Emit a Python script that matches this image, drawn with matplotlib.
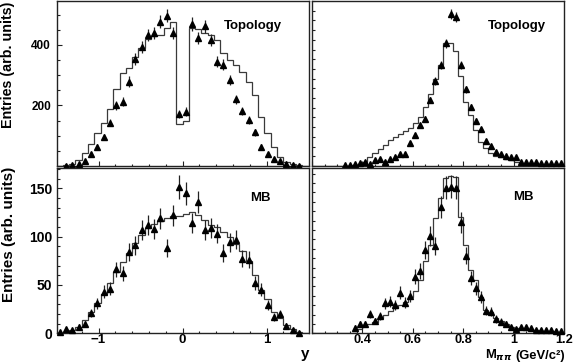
import numpy as np
import matplotlib
matplotlib.use("Agg")
import matplotlib.pyplot as plt
from matplotlib.ticker import MultipleLocator, FixedLocator, FuncFormatter, NullFormatter

plt.rcParams['font.family'] = ['Liberation Sans', 'DejaVu Sans']
plt.rcParams['font.weight'] = 'bold'

# ---------------- data ----------------
# rapidity histograms: 40 bins from -1.5 to 1.5
y_range = (-1.5, 1.5)
y_nbins = 40
# mass histograms: 50 bins from 0.2 to 1.2 GeV/c^2
m_range = (0.2, 1.2)
m_nbins = 50

topo_y_data = [0, 1, 2, 6, 18, 40, 64, 95, 143, 200, 213, 279, 353, 394, 433, 439, 477, 497, 439, 171,
               180, 469, 422, 461, 417, 345, 334, 284, 221, 182, 152, 111, 64, 40, 23, 17, 7, 3, 1, 0]
topo_y_err = [0, 1, 1.4, 2.4, 4.2, 6.3, 8, 9.7, 12, 14.1, 14.6, 16.7, 18.8, 19.8, 20.8, 21, 21.8, 22.3, 21, 13.1,
              13.4, 21.7, 20.5, 21.5, 20.4, 18.6, 18.3, 16.9, 14.9, 13.5, 12.3, 10.5, 8, 6.3, 4.8, 4.1, 2.6, 1.7, 1, 0]
topo_y_mc = [1, 3, 7, 21, 42, 73, 110, 143, 188, 253, 306, 323, 359, 389, 420, 428, 434, 455, 476, 139,
             149, 455, 452, 440, 432, 417, 373, 350, 334, 312, 279, 235, 163, 108, 64, 31, 14, 7, 3, 1]

mb_y_data = [1, 4, 3, 7, 10, 21, 31, 43, 46, 66, 62, 84, 91, 107, 112, 108, 119, 88, 122, 151,
             145, 114, 136, 107, 109, 103, 83, 94, 97, 77, 76, 52, 45, 29, 17, 20, 8, 3, 0.5, 0]
mb_y_err = [1, 2, 1.7, 2.6, 3.2, 4.6, 5.6, 6.6, 6.8, 8.1, 7.9, 9.2, 9.5, 10.3, 10.6, 10.4, 10.9, 9.4, 11, 12.3,
            12, 10.7, 11.7, 10.3, 10.4, 10.1, 9.1, 9.7, 9.8, 8.8, 8.7, 7.2, 6.7, 5.4, 4.1, 4.5, 2.8, 1.7, 0.7, 0]
mb_y_mc = [0.5, 1.5, 3, 7, 14, 22, 31, 41, 52, 63, 74, 83, 93, 102, 109, 113, 116, 119, 121, 121,
           123, 125, 122, 117, 112, 110, 105, 100, 92, 85, 75, 60, 45, 35, 22, 15.5, 8.6, 4, 1.5, 0.5]

topo_m_data = [0, 0, 0, 0, 0, 0, 1, 1, 1.7, 2.7, 3.8, 2, 6.2, 6.9, 4.5, 7.6, 9.6, 12.7, 12.7, 24,
               32, 42, 48.5, 68, 87.6, 104, 126.5, 156.7, 153.3, 104, 79, 61, 46.4, 38, 25.8, 21, 14.8, 12.4, 10.7, 9.6,
               9, 4.5, 4.5, 4.5, 4.5, 2.7, 2.7, 2.7, 2.7, 2.7]
topo_m_err = [0, 0, 0, 0, 0, 0, 0.4, 0.4, 0.5, 0.65, 0.8, 0.55, 1, 1.05, 0.85, 1.1, 1.25, 1.4, 1.4, 1.95,
              2.25, 2.6, 2.8, 3.3, 3.75, 4.1, 4.5, 5, 4.95, 4.1, 3.55, 3.1, 2.7, 2.45, 2.05, 1.85, 1.55, 1.4, 1.3, 1.25,
              1.2, 0.85, 0.85, 0.85, 0.85, 0.65, 0.65, 0.65, 0.65, 0.65]
topo_m_mc = [0, 0, 0, 0, 0, 0, 0, 0.5, 1, 1, 3.8, 9.6, 13, 17.5, 21.6, 26.8, 30, 32.6, 36.4, 38.8,
             44, 50.9, 61, 73.9, 89.4, 104, 126.5, 126.5, 118.9, 92.8, 66.3, 52.6, 37, 25, 18.2, 13.7, 10.7, 9, 7.2, 6.2,
             3.8, 2, 2, 1.5, 1.5, 1, 1, 0.5, 0.5, 0.5]

mb_m_data = [0, 0, 0, 0, 0, 0, 0, 0, 6, 9.6, 9.6, 20.5, 13.1, 18.4, 31.9, 33.6, 30.1, 43.2, 32.6, 39.7,
             60.2, 66.3, 88.6, 103.5, 93.2, 134.7, 154.9, 156, 154.9, 118, 82.6, 58.5, 47.9, 38.3, 24, 23, 15.2, 12.4, 9.6, 6.4,
             4.6, 6.4, 6.4, 5.3, 3.5, 3.5, 3.5, 3.5, 2.8, 2.8]
mb_m_err = [0, 0, 0, 0, 0, 0, 0, 0, 2.4, 3.1, 3.1, 4.5, 3.6, 4.3, 5.6, 5.8, 5.5, 6.6, 5.7, 6.3,
            7.8, 8.1, 9.4, 10.2, 9.7, 11.6, 12.4, 12.5, 12.4, 10.9, 9.1, 7.6, 6.9, 6.2, 4.9, 4.8, 3.9, 3.5, 3.1, 2.5,
            2.1, 2.5, 2.5, 2.3, 1.9, 1.9, 1.9, 1.9, 1.7, 1.7]
mb_m_mc = [0, 0, 0, 0, 0, 0, 0, 0, 0, 4.2, 8.8, 9.6, 12.4, 16, 19.5, 23.7, 26.6, 30.1, 33.6, 38.9,
           45, 56.7, 76.9, 93.9, 122.3, 143.6, 165, 167, 166, 124, 93.9, 67.3, 56.7, 38.9, 24.8, 23, 16.6, 13.1, 9.6, 7,
           5.3, 4.2, 4, 3.5, 3, 2.5, 2, 2, 1.5, 1.5]

panel_labels = ["Topology", "Topology", "MB", "MB"]
y_title = "Entries (arb. units)"
x_title_left = "y"
x_title_right_var = r"M$_{\pi\pi}$"
x_title_right_unit = "(GeV/c²)"

# ---------------- figure ----------------
W, H = 575, 363
fig = plt.figure(figsize=(W / 100, H / 100), dpi=100)
fig.patch.set_facecolor('white')


def ax_at(x0, y0, x1, y1):
    return fig.add_axes([x0 / W, 1 - y1 / H, (x1 - x0) / W, (y1 - y0) / H])


ax_tl = ax_at(56.5, 1, 308.5, 166)
ax_bl = ax_at(56.5, 167.5, 308.5, 333.3)
ax_tr = ax_at(312, 1, 564, 166)
ax_br = ax_at(312, 167.5, 564, 333.3)

y_edges = np.linspace(y_range[0], y_range[1], y_nbins + 1)
m_edges = np.linspace(m_range[0], m_range[1], m_nbins + 1)


def draw(ax, edges, mc, data, err):
    ax.stairs(mc, edges, color='#3a3a3a', lw=0.9, baseline=0)
    centers = 0.5 * (edges[:-1] + edges[1:])
    d = np.array(data, float)
    e = np.array(err, float)
    sel = d > 0
    ax.errorbar(centers[sel], d[sel], yerr=e[sel], fmt='^', color='black', ms=4.4,
                elinewidth=0.9, ecolor='#222222', capsize=0, clip_on=False, zorder=3)


draw(ax_tl, y_edges, topo_y_mc, topo_y_data, topo_y_err)
draw(ax_bl, y_edges, mb_y_mc, mb_y_data, mb_y_err)
draw(ax_tr, m_edges, topo_m_mc, topo_m_data, topo_m_err)
draw(ax_br, m_edges, mb_m_mc, mb_m_data, mb_m_err)

ax_tl.set_ylim(0, 545)
ax_bl.set_ylim(0, 171.5)
ax_tr.set_ylim(0, 170)
ax_br.set_ylim(0, 176.4)

for ax in (ax_tl, ax_bl):
    ax.set_xlim(*y_range)
    ax.xaxis.set_major_locator(MultipleLocator(1))
    ax.xaxis.set_minor_locator(MultipleLocator(0.2))
for ax in (ax_tr, ax_br):
    ax.set_xlim(*m_range)
    ax.xaxis.set_major_locator(MultipleLocator(0.2))
    ax.xaxis.set_minor_locator(MultipleLocator(0.05))
    ax.yaxis.set_major_locator(MultipleLocator(10))
    ax.yaxis.set_minor_locator(FixedLocator([]))
    ax.yaxis.set_major_formatter(NullFormatter())

ax_tl.yaxis.set_major_locator(FixedLocator([0, 200, 400]))
ax_tl.yaxis.set_minor_locator(MultipleLocator(50))
ax_tl.yaxis.set_major_formatter(FuncFormatter(lambda v, p: "" if v == 0 else f"{v:g}"))
ax_bl.yaxis.set_major_locator(MultipleLocator(50))
ax_bl.yaxis.set_minor_locator(MultipleLocator(10))

for ax in (ax_tl, ax_tr):
    ax.xaxis.set_major_formatter(NullFormatter())
ax_br.xaxis.set_major_formatter(FuncFormatter(
    lambda v, p: "" if abs(v - 0.2) < 1e-6 else f"{v:g}"))

for ax in (ax_tl, ax_bl, ax_tr, ax_br):
    for s in ax.spines.values():
        s.set_linewidth(1.0)
        s.set_color('#222222')
    ax.tick_params(which='both', direction='in', top=False, right=False,
                   color='#222222', width=0.8)
    ax.tick_params(which='major', length=3.6)
    ax.tick_params(which='minor', length=1.8)
    ax.set_facecolor('white')

for ax in (ax_tr, ax_br):
    ax.tick_params(axis='y', which='major', length=2.0)

ax_tl.tick_params(axis='y', labelsize=8.5, pad=4)
ax_bl.tick_params(axis='y', labelsize=10, pad=3)
ax_bl.tick_params(axis='x', labelsize=9.5, pad=0.8)
ax_br.tick_params(axis='x', labelsize=9.2, pad=0.7)

# panel labels
fig.text(224 / W, 1 - 29.3 / H, panel_labels[0], fontsize=9.5, fontweight='bold', va='baseline')
fig.text(488.3 / W, 1 - 29.3 / H, panel_labels[1], fontsize=9.5, fontweight='bold', va='baseline')
fig.text(250 / W, 1 - 201 / H, panel_labels[2], fontsize=9.5, fontweight='bold', va='baseline')
fig.text(513.3 / W, 1 - 200 / H, panel_labels[3], fontsize=9.5, fontweight='bold', va='baseline')

# axis titles
fig.text(7.8 / W, 1 - 65 / H, y_title, rotation=90, fontsize=10.3, fontweight='bold',
         ha='center', va='center')
fig.text(8.8 / W, 1 - 234 / H, y_title, rotation=90, fontsize=11, fontweight='bold',
         ha='center', va='center')
fig.text(309 / W, 1 - 358 / H, x_title_left, fontsize=11, fontweight='bold', ha='right', va='baseline')

unit_txt = fig.text(565 / W, 1 - 358.5 / H, x_title_right_unit, fontsize=9.4, fontweight='bold',
                    ha='right', va='baseline')
fig.canvas.draw()
bb = unit_txt.get_window_extent()
fig.text((bb.x0 - 3.5) / W, 1 - 358.5 / H, x_title_right_var, fontsize=9.4, fontweight='bold',
         ha='right', va='baseline')

fig.savefig("out.png", dpi=100, facecolor='white')
